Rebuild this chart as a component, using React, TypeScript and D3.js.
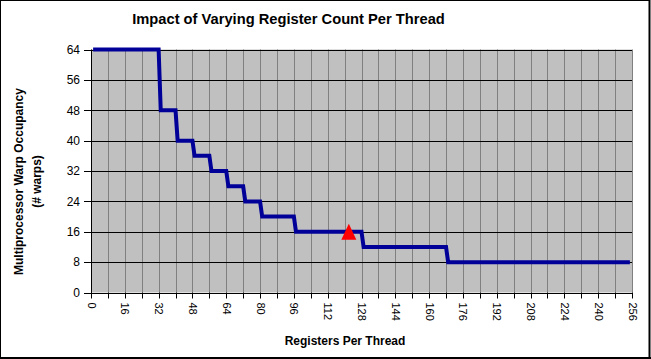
import * as React from "react";
import * as d3 from "d3";

// registers per thread where each occupancy level starts / ends
const stepStart = [1, 33, 41, 49, 57, 65, 73, 81, 97, 129, 169];
const stepEnd = [32, 40, 48, 56, 64, 72, 80, 96, 128, 168, 255];
const warps = [64, 48, 40, 36, 32, 28, 24, 20, 16, 12, 8];

// current kernel's register count and occupancy
const currentRegs = [122];
const currentWarps = [16];

const xTicks = d3.range(0, 257, 16);
const xGrid = d3.range(0, 257, 8);
const yTicks = d3.range(0, 65, 8);

const FONT = "'Liberation Sans', Arial, Helvetica, sans-serif";

function drawChart(svgRef: React.RefObject<SVGSVGElement | null>) {
  const width = 651;
  const height = 359;
  const margin = { top: 49.5, right: 19, bottom: 66.5, left: 91 };

  const x = d3.scaleLinear().domain([0, 256]).range([margin.left, width - margin.right]);
  const y = d3.scaleLinear().domain([0, 64]).range([height - margin.bottom, margin.top]);

  const svg = d3.select(svgRef.current).attr("width", width).attr("height", height);
  svg.selectAll("*").remove();

  svg.append("rect").attr("width", width).attr("height", height).attr("fill", "#fff");

  // chart border (thicker shadow on bottom/right)
  svg.append("rect")
    .attr("x", 0.5).attr("y", 0.5).attr("width", 649).attr("height", 357.5)
    .attr("fill", "none").attr("stroke", "#000").attr("stroke-width", 1);
  svg.append("line").attr("x1", 649.5).attr("x2", 649.5).attr("y1", 0).attr("y2", 359)
    .attr("stroke", "#000").attr("stroke-width", 2);
  svg.append("line").attr("x1", 0).attr("x2", 651).attr("y1", 358).attr("y2", 358)
    .attr("stroke", "#000").attr("stroke-width", 2);

  // plot area
  svg.append("rect")
    .attr("x", x(0)).attr("y", y(64))
    .attr("width", x(256) - x(0)).attr("height", y(0) - y(64))
    .attr("fill", "#c0c0c0");

  svg.append("g").selectAll("line").data(xGrid.slice(1)).enter().append("line")
    .attr("x1", d => Math.round(x(d)) + 0.5).attr("x2", d => Math.round(x(d)) + 0.5)
    .attr("y1", y(64)).attr("y2", y(0))
    .attr("stroke", "#808080").attr("stroke-width", 1);

  svg.append("g").selectAll("line").data(yTicks).enter().append("line")
    .attr("x1", x(0) - 7).attr("x2", x(256))
    .attr("y1", d => Math.round(y(d)) + 0.5).attr("y2", d => Math.round(y(d)) + 0.5)
    .attr("stroke", "#000").attr("stroke-width", 1);

  // axes
  svg.append("line")
    .attr("x1", x(0) + 0.5).attr("x2", x(0) + 0.5).attr("y1", y(64)).attr("y2", y(0) + 0.5)
    .attr("stroke", "#000");
  svg.append("g").selectAll("line").data(xGrid).enter().append("line")
    .attr("x1", d => Math.round(x(d)) + 0.5).attr("x2", d => Math.round(x(d)) + 0.5)
    .attr("y1", y(0)).attr("y2", y(0) + 6)
    .attr("stroke", "#000");

  svg.append("g").selectAll("text").data(yTicks).enter().append("text")
    .text(d => d)
    .attr("x", x(0) - 11).attr("y", d => y(d))
    .attr("dy", "0.36em")
    .attr("text-anchor", "end")
    .attr("font-family", FONT).attr("font-size", 12).attr("fill", "#000");

  svg.append("g").selectAll("text").data(xTicks).enter().append("text")
    .text(d => d)
    .attr("transform", d => `translate(${x(d) + 0.5},${y(0) + 10}) rotate(90)`)
    .attr("dy", "0.36em")
    .attr("text-anchor", "start")
    .attr("font-family", FONT).attr("font-size", 11).attr("fill", "#000");

  // occupancy step line
  const points: [number, number][] = [];
  warps.forEach((w, i) => {
    points.push([stepStart[i], w]);
    points.push([stepEnd[i], w]);
  });
  const line = d3.line<[number, number]>().x(d => x(d[0])).y(d => y(d[1]));
  svg.append("path")
    .datum(points)
    .attr("d", line)
    .attr("fill", "none")
    .attr("stroke", "#000099")
    .attr("stroke-width", 4)
    .attr("stroke-linejoin", "miter");

  // current register count marker
  svg.append("g").selectAll("path").data(currentRegs).enter().append("path")
    .attr("d", (d, i) => {
      const cx = x(d), cy = y(currentWarps[i]);
      return `M${cx},${cy - 8}L${cx + 7.5},${cy + 8}L${cx - 7.5},${cy + 8}Z`;
    })
    .attr("fill", "#ff0000");

  // titles
  svg.append("text")
    .text("Impact of Varying Register Count Per Thread")
    .attr("x", 288.5).attr("y", 24)
    .attr("text-anchor", "middle")
    .attr("font-family", FONT).attr("font-size", 14.7).attr("font-weight", "bold");

  svg.append("text")
    .text("Registers Per Thread")
    .attr("x", 345).attr("y", 345)
    .attr("text-anchor", "middle")
    .attr("font-family", FONT).attr("font-size", 12).attr("font-weight", "bold");

  const yTitle = svg.append("text")
    .attr("transform", "translate(23,181.5) rotate(-90)")
    .attr("text-anchor", "middle")
    .attr("font-family", FONT).attr("font-size", 12).attr("font-weight", "bold");
  yTitle.append("tspan").attr("x", 0).attr("y", 0).text("Multiprocessor Warp Occupancy");
  yTitle.append("tspan").attr("x", 0).attr("y", 18).text("(# warps)");
}

const App = () => {
  const svgRef = React.useRef<SVGSVGElement | null>(null);

  React.useEffect(() => {
    drawChart(svgRef);
  }, [svgRef]);

  return (
    <div id="chart">
      <svg ref={svgRef} style={{ position: "absolute", left: 0, top: 0, display: "block" }} />
    </div>
  );
};

export default App;
